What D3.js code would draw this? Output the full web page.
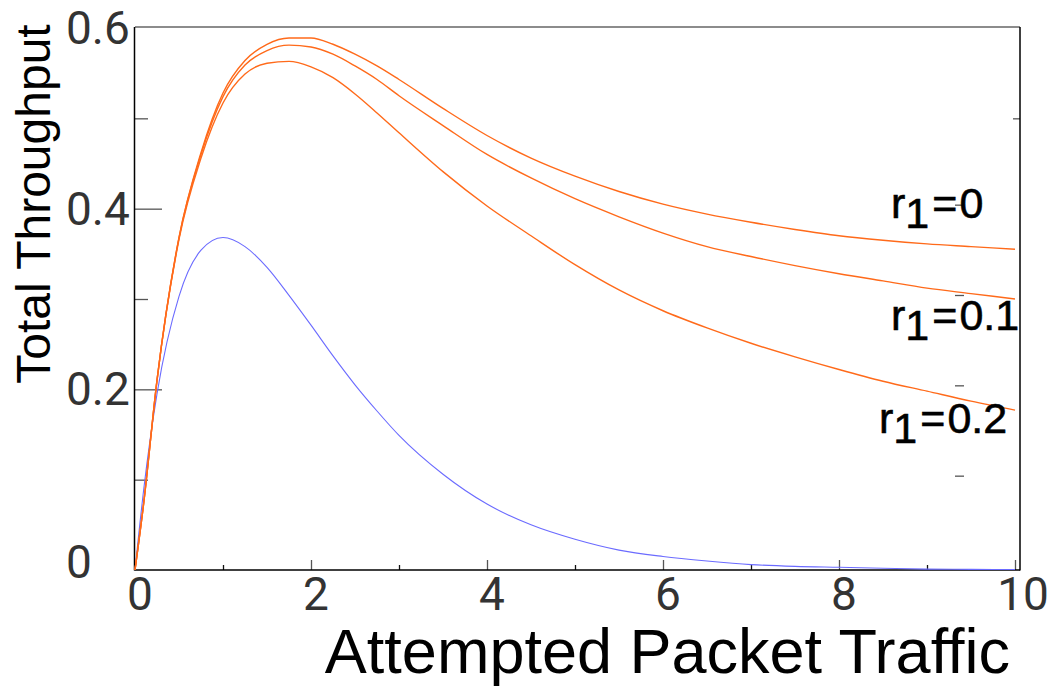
<!DOCTYPE html>
<html>
<head>
<meta charset="utf-8">
<script src="https://cdn.jsdelivr.net/npm/d3@7"></script>
<style>
  body { margin: 0; background: #fff; }
  svg { display: block; }
</style>
</head>
<body>
<script>
// attempted traffic G (x axis)
var traffic = [0, 0.1, 0.25, 0.5, 0.75, 1, 1.25, 1.5, 1.75, 2, 2.25, 2.5, 2.75, 3,
               3.5, 4, 4.5, 5, 5.5, 6, 6.5, 7, 7.5, 8, 8.5, 9, 9.5, 10];

// total throughput
var thrR0  = [0, 0.075, 0.21, 0.368, 0.462, 0.528, 0.564, 0.582, 0.589, 0.589, 0.582, 0.571, 0.558, 0.543,
              0.511, 0.481, 0.456, 0.436, 0.419, 0.405, 0.394, 0.385, 0.377, 0.370, 0.365, 0.361, 0.358, 0.355];
var thrR01 = [0, 0.075, 0.21, 0.368, 0.460, 0.524, 0.559, 0.575, 0.581, 0.579, 0.571, 0.558, 0.543, 0.525,
              0.492, 0.460, 0.434, 0.411, 0.391, 0.373, 0.358, 0.347, 0.337, 0.328, 0.320, 0.312, 0.306, 0.300];
var thrR02 = [0, 0.075, 0.21, 0.366, 0.456, 0.517, 0.549, 0.561, 0.563, 0.557, 0.545, 0.527, 0.506, 0.484,
              0.441, 0.403, 0.370, 0.338, 0.310, 0.287, 0.268, 0.251, 0.236, 0.222, 0.209, 0.198, 0.187, 0.177];
var thrAloha = [0, 0.09, 0.195, 0.303, 0.354, 0.368, 0.358, 0.335, 0.304, 0.271, 0.237, 0.205, 0.176, 0.149,
                0.106, 0.073, 0.050, 0.034, 0.022, 0.015, 0.010, 0.006, 0.004, 0.003, 0.002, 0.001, 0.0007, 0.0005];

var xMajor = [0, 2, 4, 6, 8, 10];
var xMinor = [1, 3, 5, 7, 9];
var yMajor = [0, 0.2, 0.4, 0.6];
var yMinor = [0.1, 0.3, 0.5];
var xLabels = ["0", "2", "4", "6", "8", "10"];
var yLabels = ["0", "0.2", "0.4", "0.6"];

var curveLabels = [
  { value: "0",   x: 891, y: 218 },
  { value: "0.1", x: 891, y: 330 },
  { value: "0.2", x: 879, y: 433 }
];

var W = 1052, H = 686;
var x = d3.scaleLinear().domain([0, 10]).range([135, 1015]);
var y = d3.scaleLinear().domain([0, 0.6]).range([570, 28]);

var svg = d3.select("body").append("svg")
    .attr("width", W)
    .attr("height", H);

// ticks
function ticks(axis, transform, color) {
  var g = svg.append("g").attr("transform", transform).call(axis);
  g.select(".domain").remove();
  g.selectAll("line").attr("stroke", color).attr("stroke-width", 1.3);
  g.selectAll("text").remove();
  return g;
}
ticks(d3.axisLeft(y).tickValues(yMajor.slice(1, 3)).tickSize(-27), "translate(135,0)", "#555");
ticks(d3.axisLeft(y).tickValues(yMinor).tickSize(-13), "translate(135,0)", "#555");
ticks(d3.axisBottom(x).tickValues(xMajor.slice(1)).tickSize(-10), "translate(0,570)", "#555");
ticks(d3.axisBottom(x).tickValues(xMinor).tickSize(-5), "translate(0,570)", "#111");
ticks(d3.axisRight(y).tickValues([0.5]).tickSize(-7), "translate(1020,0)", "#555");
// stray right-hand tick marks sitting inside the plot
ticks(d3.axisRight(y).tickValues([0.4, 0.3, 0.2, 0.1]).tickSize(-9), "translate(964,-4)", "#555");

// frame
svg.append("line").attr("x1", 135).attr("x2", 1020).attr("y1", 27).attr("y2", 27)
    .attr("stroke", "#666").attr("stroke-width", 1.5);
svg.append("line").attr("x1", 134.5).attr("x2", 134.5).attr("y1", 27).attr("y2", 570.5)
    .attr("stroke", "#000").attr("stroke-width", 1.5);
svg.append("line").attr("x1", 134.5).attr("x2", 1020).attr("y1", 570).attr("y2", 570)
    .attr("stroke", "#000").attr("stroke-width", 1.5);
svg.append("line").attr("x1", 1020).attr("x2", 1020).attr("y1", 27).attr("y2", 570.5)
    .attr("stroke", "#000").attr("stroke-width", 1.5);

// curves
var line = d3.line()
    .x(function (d) { return x(d[0]); })
    .y(function (d) { return y(d[1]); })
    .curve(d3.curveMonotoneX);

function series(vals) { return traffic.map(function (t, i) { return [t, vals[i]]; }); }

svg.append("path").datum(series(thrAloha)).attr("d", line)
    .attr("fill", "none").attr("stroke", "#6b6bff").attr("stroke-width", 1.1);
[thrR0, thrR01, thrR02].forEach(function (v) {
  svg.append("path").datum(series(v)).attr("d", line)
      .attr("fill", "none").attr("stroke", "#ff6a1a").attr("stroke-width", 1.4);
});

// tick labels
var tickFont = "Roboto, 'Open Sans', sans-serif";
svg.selectAll(".ylab").data(yMajor).enter().append("text")
    .attr("x", 66)
    .attr("y", function (d) { return y(d) + (d === 0 ? -8 : 0); })
    .attr("dy", "0.35em")
    .attr("font-family", tickFont)
    .attr("font-size", 46).attr("fill", "#333")
    .text(function (d, i) { return yLabels[i]; });

svg.selectAll(".xlab").data(xMajor).enter().append("text")
    .attr("x", function (d) { return x(d) + (d === 10 ? 8 : 5); })
    .attr("y", 610)
    .attr("text-anchor", "middle")
    .attr("font-family", tickFont)
    .attr("font-size", 46).attr("fill", "#333")
    .text(function (d, i) { return xLabels[i]; });

// axis titles
svg.append("text")
    .attr("x", 1010).attr("y", 673)
    .attr("text-anchor", "end")
    .attr("font-family", "'Liberation Sans', Arial, sans-serif")
    .attr("font-size", 63).attr("fill", "#000")
    .text("Attempted Packet Traffic");

svg.append("text")
    .attr("transform", "translate(50,204) rotate(-90)")
    .attr("text-anchor", "middle")
    .attr("font-family", "'Liberation Sans', Arial, sans-serif")
    .attr("font-size", 48).attr("fill", "#000")
    .text("Total Throughput");

// curve labels r1=...
curveLabels.forEach(function (c) {
  var t = svg.append("text")
      .attr("x", c.x).attr("y", c.y)
      .attr("font-family", "'Liberation Sans', Arial, sans-serif")
      .attr("font-size", 43).attr("fill", "#000")
      .attr("stroke", "#000").attr("stroke-width", 0.6);
  t.append("tspan").text("r");
  t.append("tspan").attr("dy", 10).text("1");
  t.append("tspan").attr("dy", -10).attr("dx", 3).text("=");
  t.append("tspan").attr("dx", 2).text(c.value);
});
</script>
</body>
</html>
